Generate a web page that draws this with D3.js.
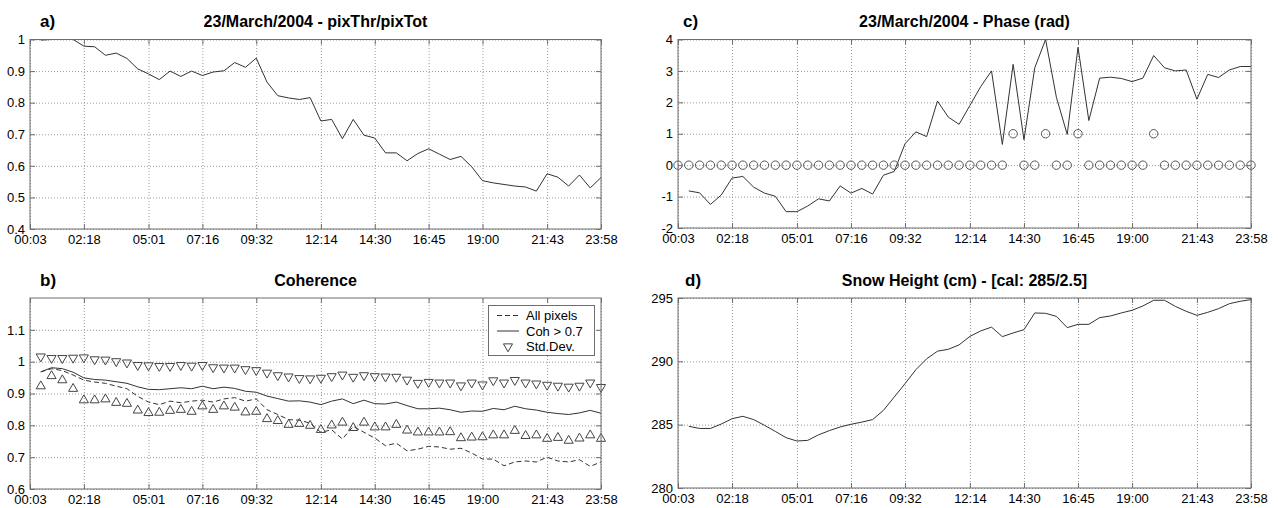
<!DOCTYPE html>
<html><head><meta charset="utf-8">
<script src="https://cdn.jsdelivr.net/npm/d3@7"></script>
<style>
body{margin:0;background:#fff;}
text{font-family:"Liberation Sans",Arial,Helvetica,sans-serif;}
</style></head><body>
<svg id="chart" width="1278" height="508"></svg>
<script>
// ---------- data ----------
const tickLabels = ["00:03","02:18","05:01","07:16","09:32","12:14","14:30","16:45","19:00","21:43","23:58"];
const tickIndex  = [0,5,11,16,21,27,32,37,42,48,53];   // sample number of each tick label
const nSamples = 54;                                   // samples 0..53

// a) pixThr/pixTot  (samples 1..53)
const pixRatio = [0.998,1.0,1.0,1.0,0.979,0.977,0.95,0.957,0.94,0.907,0.891,0.873,0.90,0.883,0.90,0.886,0.897,0.901,0.927,0.912,0.941,0.865,0.822,0.815,0.81,0.816,0.742,0.747,0.686,0.747,0.697,0.688,0.641,0.641,0.616,0.639,0.654,0.637,0.62,0.63,0.597,0.553,0.546,0.541,0.536,0.533,0.52,0.575,0.564,0.536,0.571,0.53,0.563];

// b) coherence (samples 1..53)
const cohAll = [0.968,0.978,0.972,0.958,0.942,0.936,0.932,0.923,0.915,0.891,0.873,0.865,0.876,0.871,0.876,0.879,0.873,0.883,0.887,0.876,0.883,0.849,0.834,0.818,0.816,0.807,0.778,0.786,0.757,0.797,0.778,0.76,0.736,0.744,0.72,0.725,0.734,0.732,0.725,0.728,0.713,0.694,0.694,0.673,0.685,0.688,0.685,0.7,0.688,0.685,0.692,0.671,0.685];
const cohThr = [0.968,0.981,0.978,0.967,0.949,0.944,0.942,0.937,0.932,0.921,0.913,0.912,0.915,0.918,0.915,0.923,0.915,0.92,0.916,0.907,0.904,0.892,0.884,0.876,0.877,0.873,0.865,0.876,0.883,0.868,0.879,0.868,0.867,0.873,0.862,0.852,0.852,0.854,0.849,0.841,0.845,0.844,0.853,0.849,0.86,0.852,0.848,0.841,0.837,0.834,0.839,0.847,0.838];
const stdUpper = [1.016,1.011,1.011,1.012,1.013,1.007,1.006,1.001,0.997,0.989,0.988,0.986,0.986,0.989,0.987,0.989,0.982,0.981,0.981,0.976,0.973,0.965,0.957,0.953,0.948,0.947,0.949,0.954,0.959,0.952,0.957,0.954,0.953,0.952,0.943,0.933,0.936,0.934,0.934,0.925,0.934,0.928,0.941,0.934,0.942,0.934,0.931,0.927,0.924,0.921,0.924,0.934,0.92];
const stdLower = [0.923,0.955,0.942,0.915,0.879,0.879,0.882,0.871,0.868,0.847,0.839,0.84,0.846,0.849,0.843,0.86,0.849,0.86,0.856,0.841,0.843,0.82,0.814,0.802,0.805,0.799,0.786,0.8,0.809,0.792,0.809,0.794,0.794,0.802,0.784,0.778,0.778,0.778,0.779,0.76,0.762,0.763,0.769,0.769,0.783,0.767,0.769,0.758,0.761,0.752,0.759,0.769,0.758];

// c) phase (samples 1..53) and flags (samples 0..53)
const phase = [-0.82,-0.88,-1.25,-0.95,-0.41,-0.36,-0.70,-0.89,-0.99,-1.48,-1.48,-1.30,-1.07,-1.14,-0.66,-0.89,-0.74,-0.92,-0.32,-0.20,0.68,1.06,0.91,2.04,1.53,1.30,1.9,2.5,3.0,0.66,3.21,0.81,3.1,4.0,2.16,0.98,3.75,1.42,2.77,2.8,2.76,2.66,2.77,3.49,3.1,3.0,3.03,2.1,2.89,2.79,3.03,3.14,3.14];
const phaseFlag = [0,0,0,0,0,0,0,0,0,0,0,0,0,0,0,0,0,0,0,0,0,0,0,0,0,0,0,0,0,0,0,1,0,0,1,0,0,1,0,0,0,0,0,0,1,0,0,0,0,0,0,0,0,0];

// d) snow height (samples 1..53)
const snowHeight = [284.87,284.7,284.7,285.05,285.47,285.66,285.4,284.95,284.47,283.97,283.71,283.76,284.2,284.53,284.82,285.03,285.2,285.4,286.13,287.18,288.24,289.34,290.2,290.8,290.95,291.3,291.97,292.4,292.7,291.95,292.24,292.5,293.82,293.79,293.55,292.66,292.92,292.92,293.45,293.58,293.82,294.03,294.37,294.82,294.82,294.34,293.95,293.63,293.87,294.16,294.55,294.74,294.87];

const legendLabels = ["All pixels","Coh > 0.7","Std.Dev."];

// ---------- drawing ----------
const W = 1278, H = 508;
const svg = d3.select("#chart");
svg.append("rect").attr("width", W).attr("height", H).attr("fill", "#fff");

const LINE = "#333", AXIS = "#6e6e6e", GRID = "#9a9a9a";
const plainFmt = d => String(+d.toFixed(2));   // ASCII hyphen-minus like the original

function panel(cfg) {
  const {x0, x1, y0, y1, yDomain, yTicks, letter, letterX, title} = cfg;
  const g = svg.append("g");
  const x = d3.scaleLinear().domain([0, nSamples - 1]).range([x0, x1]);
  const y = d3.scaleLinear().domain(yDomain).range([y1, y0]);
  const w = x1 - x0, h = y1 - y0;

  // grid
  g.append("g").attr("transform", `translate(0,${y1})`)
    .call(d3.axisBottom(x).tickValues(tickIndex).tickSize(-h).tickFormat(""))
    .call(a => a.select(".domain").remove())
    .call(a => a.selectAll("line").attr("stroke", GRID).attr("stroke-dasharray", "1,2"));
  g.append("g").attr("transform", `translate(${x0},0)`)
    .call(d3.axisLeft(y).tickValues(yTicks).tickSize(-w).tickFormat(""))
    .call(a => a.select(".domain").remove())
    .call(a => a.selectAll("line").attr("stroke", GRID).attr("stroke-dasharray", "1,2"));

  const data = g.append("g");

  // axes (ticks inside on all four sides)
  const fontCall = a => a.selectAll("text").attr("font-size", 13).attr("fill", "#000")
      .attr("font-family", '"Liberation Sans",Arial,sans-serif');
  const styleAx = a => { a.select(".domain").remove(); a.selectAll("line").attr("stroke", AXIS); };
  const ax = svg.append("g");
  ax.append("g").attr("transform", `translate(0,${y1})`)
    .call(d3.axisBottom(x).tickValues(tickIndex).tickFormat((d, i) => tickLabels[i])
      .tickSizeInner(-5).tickSizeOuter(0).tickPadding(6))
    .call(styleAx).call(fontCall);
  ax.append("g").attr("transform", `translate(0,${y0})`)
    .call(d3.axisTop(x).tickValues(tickIndex).tickFormat("").tickSizeInner(-5).tickSizeOuter(0))
    .call(styleAx);
  ax.append("g").attr("transform", `translate(${x0},0)`)
    .call(d3.axisLeft(y).tickValues(yTicks).tickFormat(plainFmt).tickSizeInner(-5).tickSizeOuter(0).tickPadding(5))
    .call(styleAx).call(fontCall);
  ax.append("g").attr("transform", `translate(${x1},0)`)
    .call(d3.axisRight(y).tickValues(yTicks).tickFormat("").tickSizeInner(-5).tickSizeOuter(0))
    .call(styleAx);
  ax.append("rect").attr("x", x0).attr("y", y0).attr("width", w).attr("height", h)
    .attr("fill", "none").attr("stroke", AXIS).attr("stroke-width", 1);

  // titles
  ax.append("text").attr("x", (x0 + x1) / 2).attr("y", y0 - 12.5).attr("text-anchor", "middle")
    .attr("font-size", 16).attr("font-weight", "bold").text(title);
  ax.append("text").attr("x", letterX).attr("y", y0 - 12.5)
    .attr("font-size", 17).attr("font-weight", "bold").text(letter);

  return {g: data, ax, x, y};
}

const pathLine = (x, y, vals, offset) => d3.line()
  .x((d, i) => x(i + offset)).y(d => y(d))(vals);

// a)
{
  const p = panel({x0: 30, x1: 601, y0: 39.5, y1: 229, yDomain: [0.4, 1], yTicks: [0.4,0.5,0.6,0.7,0.8,0.9,1],
    letter: "a)", letterX: 40, title: "23/March/2004 - pixThr/pixTot"});
  p.g.append("path").attr("d", pathLine(p.x, p.y, pixRatio, 1)).attr("fill", "none").attr("stroke", LINE).attr("stroke-width", 1);
}

// b)
{
  const p = panel({x0: 30, x1: 601, y0: 298, y1: 489, yDomain: [0.6, 1.2], yTicks: [0.6,0.7,0.8,0.9,1,1.1],
    letter: "b)", letterX: 40, title: "Coherence"});
  p.g.append("path").attr("d", pathLine(p.x, p.y, cohAll, 1)).attr("fill", "none").attr("stroke", LINE)
    .attr("stroke-width", 1).attr("stroke-dasharray", "5,3");
  p.g.append("path").attr("d", pathLine(p.x, p.y, cohThr, 1)).attr("fill", "none").attr("stroke", LINE).attr("stroke-width", 1);
  const tri = d3.symbol().type(d3.symbolTriangle).size(36);
  p.g.selectAll("path.up").data(stdLower).join("path").attr("class", "up")
    .attr("d", tri).attr("transform", (d, i) => `translate(${p.x(i + 1)},${p.y(d)})`)
    .attr("fill", "none").attr("stroke", "#444").attr("stroke-width", 1);
  p.g.selectAll("path.dn").data(stdUpper).join("path").attr("class", "dn")
    .attr("d", tri).attr("transform", (d, i) => `translate(${p.x(i + 1)},${p.y(d)}) rotate(180)`)
    .attr("fill", "none").attr("stroke", "#444").attr("stroke-width", 1);

  // legend
  const lg = p.ax.append("g");
  lg.append("rect").attr("x", 488.5).attr("y", 305.5).attr("width", 106).attr("height", 50)
    .attr("fill", "#fff").attr("stroke", AXIS);
  const rowsY = [315.5, 331, 346.5];
  lg.append("line").attr("x1", 497).attr("x2", 519).attr("y1", rowsY[0]).attr("y2", rowsY[0])
    .attr("stroke", LINE).attr("stroke-dasharray", "5,3");
  lg.append("line").attr("x1", 497).attr("x2", 519).attr("y1", rowsY[1]).attr("y2", rowsY[1])
    .attr("stroke", LINE);
  lg.append("path").attr("d", tri).attr("transform", `translate(508,${rowsY[2]}) rotate(180)`)
    .attr("fill", "none").attr("stroke", "#444");
  lg.selectAll("text").data(legendLabels).join("text")
    .attr("x", 526).attr("y", (d, i) => rowsY[i]).attr("dy", "0.35em")
    .attr("font-size", 13).text(d => d);
}

// c)
{
  const p = panel({x0: 678, x1: 1251, y0: 39.5, y1: 228, yDomain: [-2, 4], yTicks: [-2,-1,0,1,2,3,4],
    letter: "c)", letterX: 683, title: "23/March/2004 - Phase (rad)"});
  p.g.append("path").attr("d", pathLine(p.x, p.y, phase, 1)).attr("fill", "none").attr("stroke", LINE).attr("stroke-width", 1);
  p.g.selectAll("circle").data(phaseFlag).join("circle")
    .attr("cx", (d, i) => p.x(i)).attr("cy", d => p.y(d)).attr("r", 4.2)
    .attr("fill", "none").attr("stroke", "#555").attr("stroke-width", 1);
}

// d)
{
  const p = panel({x0: 678, x1: 1251, y0: 298, y1: 488, yDomain: [280, 295], yTicks: [280,285,290,295],
    letter: "d)", letterX: 685, title: "Snow Height (cm) - [cal: 285/2.5]"});
  p.g.append("path").attr("d", pathLine(p.x, p.y, snowHeight, 1)).attr("fill", "none").attr("stroke", LINE).attr("stroke-width", 1);
}
</script>
</body></html>
